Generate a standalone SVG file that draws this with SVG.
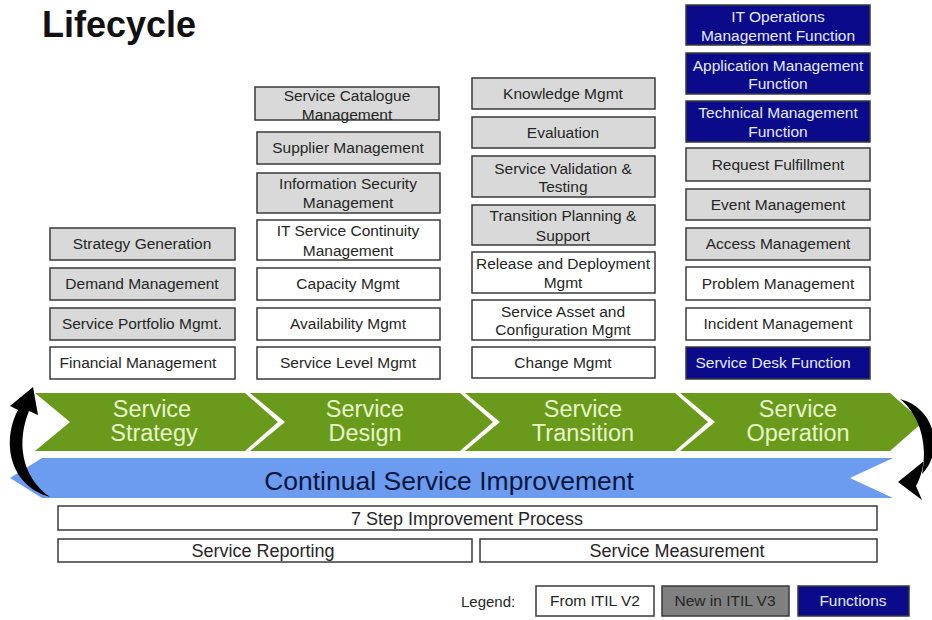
<svg xmlns="http://www.w3.org/2000/svg" width="932" height="620" viewBox="0 0 932 620">
<style>
text{font-family:"Liberation Sans",Arial,sans-serif}
.bx{stroke:#3a3a3a;stroke-width:1.5}
.g{fill:#d9d9d9}
.w{fill:#ffffff}
.n{fill:#0a0a8a}
.t{font-size:15.5px;fill:#262626;text-anchor:middle}
.tn{font-size:15.5px;fill:#e4eaff;text-anchor:middle}
.chev{fill:#6a9a1c}
.ct{font-size:23.5px;fill:#e6f5c8;text-anchor:middle}
.bt{font-size:18px;fill:#262626;text-anchor:middle}
</style>
<rect width="932" height="620" fill="#ffffff"/>
<text x="42" y="37" font-size="36" font-weight="bold" fill="#111">Lifecycle</text>

<!-- Column 1: Service Strategy -->
<g id="strategy-generation"><rect class="bx g" x="50" y="228" width="185" height="32"/><text class="t" x="142" y="249">Strategy Generation</text></g>
<g id="demand-management"><rect class="bx g" x="50" y="268" width="185" height="32"/><text class="t" x="142" y="289">Demand Management</text></g>
<g id="service-portfolio"><rect class="bx g" x="50" y="308" width="185" height="32"/><text class="t" x="142" y="329">Service Portfolio Mgmt.</text></g>
<g id="financial-management"><rect class="bx w" x="50" y="347" width="185" height="32"/><text class="t" x="138" y="368">Financial Management</text></g>

<!-- Column 2: Service Design -->
<g id="service-catalogue"><rect class="bx g" x="255" y="87" width="184" height="33"/><text class="t" x="347" y="101">Service Catalogue</text><text class="t" x="347" y="120">Management</text></g>
<g id="supplier-management"><rect class="bx g" x="257" y="132" width="183" height="32"/><text class="t" x="348" y="153">Supplier Management</text></g>
<g id="information-security"><rect class="bx g" x="257" y="173" width="183" height="40"/><text class="t" x="348" y="189">Information Security</text><text class="t" x="348" y="208">Management</text></g>
<g id="it-service-continuity"><rect class="bx w" x="257" y="220" width="183" height="40"/><text class="t" x="348" y="236">IT Service Continuity</text><text class="t" x="348" y="256">Management</text></g>
<g id="capacity-mgmt"><rect class="bx w" x="257" y="268" width="183" height="32"/><text class="t" x="348" y="289">Capacity Mgmt</text></g>
<g id="availability-mgmt"><rect class="bx w" x="257" y="308" width="183" height="32"/><text class="t" x="348" y="329">Availability Mgmt</text></g>
<g id="service-level-mgmt"><rect class="bx w" x="257" y="347" width="183" height="32"/><text class="t" x="348" y="368">Service Level Mgmt</text></g>

<!-- Column 3: Service Transition -->
<g id="knowledge-mgmt"><rect class="bx g" x="472" y="78" width="183" height="31"/><text class="t" x="563" y="99">Knowledge Mgmt</text></g>
<g id="evaluation"><rect class="bx g" x="472" y="117" width="183" height="31"/><text class="t" x="563" y="138">Evaluation</text></g>
<g id="service-validation"><rect class="bx g" x="472" y="156" width="183" height="41"/><text class="t" x="563" y="174">Service Validation &amp;</text><text class="t" x="563" y="192">Testing</text></g>
<g id="transition-planning"><rect class="bx g" x="472" y="205" width="183" height="40"/><text class="t" x="563" y="221">Transition Planning &amp;</text><text class="t" x="563" y="241">Support</text></g>
<g id="release-deployment"><rect class="bx w" x="472" y="252" width="183" height="41"/><text class="t" x="563" y="269">Release and Deployment</text><text class="t" x="563" y="288">Mgmt</text></g>
<g id="service-asset"><rect class="bx w" x="472" y="300" width="183" height="40"/><text class="t" x="563" y="317">Service Asset and</text><text class="t" x="563" y="335">Configuration Mgmt</text></g>
<g id="change-mgmt"><rect class="bx w" x="472" y="347" width="183" height="31"/><text class="t" x="563" y="368">Change Mgmt</text></g>

<!-- Column 4: Service Operation -->
<g id="it-operations"><rect class="bx n" x="686" y="5" width="184" height="40"/><text class="tn" x="778" y="22">IT Operations</text><text class="tn" x="778" y="41">Management Function</text></g>
<g id="application-management"><rect class="bx n" x="686" y="53" width="184" height="41"/><text class="tn" x="778" y="71">Application Management</text><text class="tn" x="778" y="89">Function</text></g>
<g id="technical-management"><rect class="bx n" x="686" y="101" width="184" height="41"/><text class="tn" x="778" y="118">Technical Management</text><text class="tn" x="778" y="137">Function</text></g>
<g id="request-fulfillment"><rect class="bx g" x="686" y="148" width="184" height="33"/><text class="t" x="778" y="170">Request Fulfillment</text></g>
<g id="event-management"><rect class="bx g" x="686" y="189" width="184" height="31"/><text class="t" x="778" y="210">Event Management</text></g>
<g id="access-management"><rect class="bx g" x="686" y="228" width="184" height="32"/><text class="t" x="778" y="249">Access Management</text></g>
<g id="problem-management"><rect class="bx w" x="686" y="267" width="184" height="33"/><text class="t" x="778" y="289">Problem Management</text></g>
<g id="incident-management"><rect class="bx w" x="686" y="308" width="184" height="32"/><text class="t" x="778" y="329">Incident Management</text></g>
<g id="service-desk"><rect class="bx n" x="686" y="347" width="184" height="32"/><text class="tn" x="773" y="368">Service Desk Function</text></g>

<!-- Lifecycle chevrons -->
<g id="service-strategy"><polygon class="chev" points="35,393 245,393 278,422 245,451 35,451 70,422"/><text class="ct" x="152" y="417">Service</text><text class="ct" x="154" y="441">Strategy</text></g>
<g id="service-design"><polygon class="chev" points="250,393 460,393 493,422 460,451 250,451 285,422"/><text class="ct" x="365" y="417">Service</text><text class="ct" x="365" y="441">Design</text></g>
<g id="service-transition"><polygon class="chev" points="465,393 675,393 708,422 675,451 465,451 500,422"/><text class="ct" x="583" y="417">Service</text><text class="ct" x="583" y="441">Transition</text></g>
<g id="service-operation"><polygon class="chev" points="680,393 890,393 923,422 890,451 680,451 715,422"/><text class="ct" x="798" y="417">Service</text><text class="ct" x="798" y="441">Operation</text></g>

<!-- Continual Service Improvement -->
<g id="csi"><polygon fill="#6b9cef" points="42,458 893,458 850,478 893,498 42,498 10,478"/><text x="449" y="490" font-size="26.5" fill="#0b1640" text-anchor="middle">Continual Service Improvement</text></g>

<!-- Cycle arrows -->
<g id="connectors" fill="#000">
<path d="M50,497 C8,485 2,440 18,410 L10,406 L33,387 L38,415 L29,411 C17,440 20,476 50,497 Z"/>
<path d="M900,399 C936,408 944,452 922,474 L924,461 L898,482 L922,500 L916,486 C930,462 926,420 900,399 Z"/>
</g>

<!-- CSI sub-boxes -->
<g id="seven-step"><rect class="bx w" x="58" y="506" width="819" height="24"/><text class="bt" x="467" y="525">7 Step Improvement Process</text></g>
<g id="service-reporting"><rect class="bx w" x="58" y="539" width="414" height="23"/><text class="bt" x="263" y="557">Service Reporting</text></g>
<g id="service-measurement"><rect class="bx w" x="480" y="539" width="397" height="23"/><text class="bt" x="677" y="557">Service Measurement</text></g>

<!-- Legend -->
<g id="legend">
<text x="461" y="607" font-size="15" fill="#262626">Legend:</text>
<rect class="bx w" x="536" y="586" width="118" height="30"/><text class="t" x="595" y="606">From ITIL V2</text>
<rect class="bx" fill="#808080" x="662" y="586" width="127" height="30"/><text class="t" x="725" y="606">New in ITIL V3</text>
<rect class="bx n" x="798" y="586" width="111" height="30"/><text class="tn" x="853" y="606">Functions</text>
</g>
</svg>
